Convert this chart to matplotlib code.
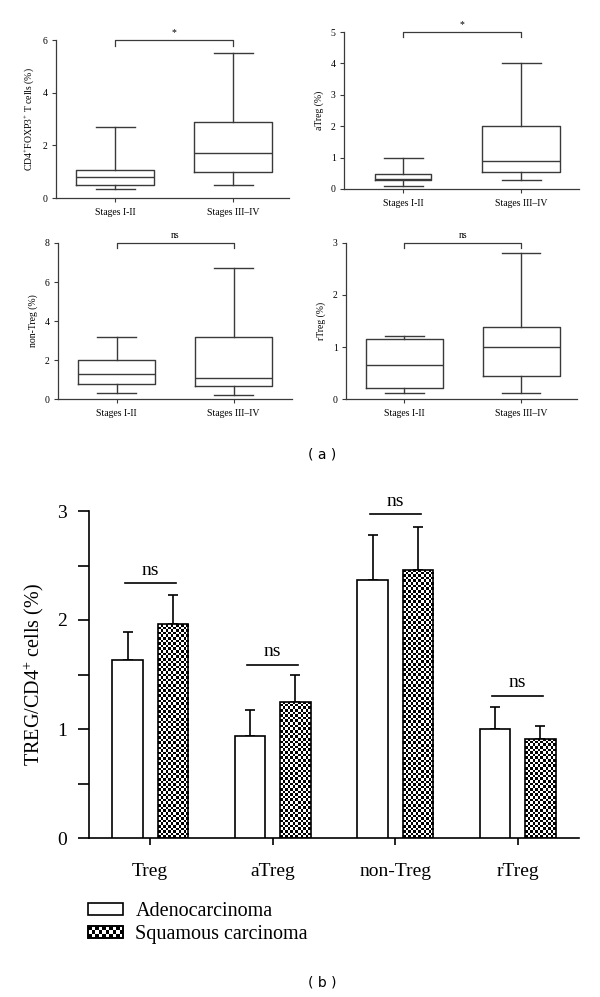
import numpy as np
import matplotlib
matplotlib.use("Agg")
import matplotlib.pyplot as plt
from matplotlib.patches import Rectangle
from matplotlib.legend_handler import HandlerBase

plt.rcParams['font.family'] = ['Liberation Serif', 'DejaVu Serif']
plt.rcParams['mathtext.fontset'] = 'custom'
plt.rcParams['mathtext.rm'] = 'Liberation Serif'
plt.rcParams['mathtext.it'] = 'Liberation Serif:italic'

# ---------------- data: panel (a) box plots ----------------
stages = ["Stages I-II", "Stages III\u2013IV"]

treg_whislo = [0.35, 0.5]
treg_q1 = [0.5, 1.0]
treg_med = [0.8, 1.72]
treg_q3 = [1.05, 2.9]
treg_whishi = [2.7, 5.5]

atreg_whislo = [0.1, 0.28]
atreg_q1 = [0.3, 0.53]
atreg_med = [0.33, 0.88]
atreg_q3 = [0.47, 2.0]
atreg_whishi = [1.0, 4.0]

ntreg_whislo = [0.3, 0.22]
ntreg_q1 = [0.75, 0.67]
ntreg_med = [1.3, 1.1]
ntreg_q3 = [2.02, 3.18]
ntreg_whishi = [3.18, 6.7]

rtreg_whislo = [0.12, 0.11]
rtreg_q1 = [0.22, 0.44]
rtreg_med = [0.65, 1.0]
rtreg_q3 = [1.15, 1.38]
rtreg_whishi = [1.22, 2.8]

sig_labels = ["*", "*", "ns", "ns"]
ylabels_a = ["CD4$^{+}$FOXP3$^{+}$ T cells (%)", "aTreg (%)", "non-Treg (%)", "rTreg (%)"]
yticks_a = [[0, 2, 4, 6], [0, 1, 2, 3, 4, 5], [0, 2, 4, 6, 8], [0, 1, 2, 3]]

# ---------------- data: panel (b) bar chart ----------------
groups = ["Treg", "aTreg", "non-Treg", "rTreg"]
adeno_mean = [1.63, 0.94, 2.37, 1.00]
adeno_err = [0.26, 0.23, 0.41, 0.20]
squam_mean = [1.96, 1.25, 2.46, 0.91]
squam_err = [0.27, 0.245, 0.39, 0.12]
ns_line_y = [2.34, 1.59, 2.97, 1.305]
series_names = ["Adenocarcinoma", "Squamous carcinoma"]

W, H = 600, 997
fig = plt.figure(figsize=(W / 100, H / 100), dpi=100)
LC = '#3a3a3a'


def px_axes(x0, y_top, x1, y_bot):
    return fig.add_axes([x0 / W, 1 - y_bot / H, (x1 - x0) / W, (y_bot - y_top) / H])


panel_boxes = [
    (treg_whislo, treg_q1, treg_med, treg_q3, treg_whishi),
    (atreg_whislo, atreg_q1, atreg_med, atreg_q3, atreg_whishi),
    (ntreg_whislo, ntreg_q1, ntreg_med, ntreg_q3, ntreg_whishi),
    (rtreg_whislo, rtreg_q1, rtreg_med, rtreg_q3, rtreg_whishi),
]
axes_px = [(56, 40, 289, 198), (344, 32, 579, 189), (58, 243, 292, 399), (346, 243, 577, 399)]
box_widths = [[0.66, 0.66], [0.48, 0.66], [0.66, 0.66], [0.66, 0.66]]
xlims = [(0.5, 2.47), (0.5, 2.49), (0.5, 2.5), (0.5, 2.48)]

FS_A = 7.0
for i in range(4):
    ax = px_axes(*axes_px[i])
    lo, q1, med, q3, hi = panel_boxes[i]
    stats = []
    for k in range(2):
        stats.append(dict(whislo=lo[k], q1=q1[k], med=med[k], q3=q3[k], whishi=hi[k], fliers=[], label=stages[k]))
    lp = dict(color=LC, linewidth=1.0)
    ax.bxp(stats, positions=[1, 2], widths=box_widths[i], capwidths=[0.33, 0.33],
           showfliers=False, boxprops=lp, whiskerprops=lp, capprops=lp,
           medianprops=dict(color=LC, linewidth=1.0))
    top = yticks_a[i][-1]
    ax.set_ylim(0, top)
    ax.set_xlim(*xlims[i])
    ax.set_yticks(yticks_a[i])
    ax.set_xticks([1, 2])
    ax.set_xticklabels(stages)
    ax.spines['top'].set_visible(False)
    ax.spines['right'].set_visible(False)
    for s in ['left', 'bottom']:
        ax.spines[s].set_color(LC)
        ax.spines[s].set_linewidth(0.9)
    ax.tick_params(axis='both', length=3, width=0.8, color=LC, labelsize=FS_A, pad=3)
    ax.tick_params(axis='x', pad=4)
    ax.set_ylabel(ylabels_a[i], fontsize=FS_A, labelpad=5)
    # significance bracket
    tip = top * 0.035
    ax.plot([1, 1, 2, 2], [top - tip, top, top, top - tip], color=LC, lw=0.9, clip_on=False)
    ax.text(1.5, top + top * 0.02, sig_labels[i], ha='center', va='bottom', fontsize=FS_A)

fig.text(322 / W, 1 - 455 / H, "( a )", ha='center', va='center', fontsize=10, family='DejaVu Sans')

# ---------------- panel (b) ----------------
FS_B = 14.0
axb = px_axes(89, 511, 579, 838)
x = np.arange(len(groups))
bw = 0.25
off = 0.185
b1 = axb.bar(x - off, adeno_mean, bw, color='white', edgecolor='black', linewidth=1.2, zorder=3)
b2 = axb.bar(x + off, squam_mean, bw, color='none', edgecolor='black', linewidth=1.2, zorder=3)
axb.errorbar(x - off, adeno_mean, yerr=[np.zeros(4), adeno_err], fmt='none', ecolor='black',
             elinewidth=1.2, capsize=3.3, capthick=1.2, zorder=2)
axb.errorbar(x + off, squam_mean, yerr=[np.zeros(4), squam_err], fmt='none', ecolor='black',
             elinewidth=1.2, capsize=3.3, capthick=1.2, zorder=2)

# checkerboard fill clipped to squamous bars
px_per_unit = 327 / 3.0
for rect, h in zip(b2.patches, squam_mean):
    cols = 12
    rows = max(1, int(round(h * px_per_unit / 2.6)))
    yy, xx = np.mgrid[0:rows, 0:cols]
    img = ((xx + yy) % 2).astype(float)
    x0 = rect.get_x()
    im = axb.imshow(img, extent=(x0, x0 + rect.get_width(), 0, h), cmap='gray', vmin=0, vmax=1,
                    interpolation='nearest', aspect='auto', zorder=2.5, origin='lower')
    im.set_clip_path(rect)

for k in range(4):
    axb.plot([x[k] - 0.21, x[k] + 0.21], [ns_line_y[k]] * 2, color='black', lw=1.2, zorder=3)
    axb.text(x[k], ns_line_y[k] + 0.04, "ns", ha='center', va='bottom', fontsize=FS_B)

axb.set_xlim(-0.5, 3.5)
axb.set_ylim(0, 3)
axb.set_yticks([0, 1, 2, 3])
axb.set_yticks([0.5, 1.5, 2.5], minor=True)
axb.set_xticks(x)
axb.set_xticklabels(groups)
axb.spines['top'].set_visible(False)
axb.spines['right'].set_visible(False)
for s in ['left', 'bottom']:
    axb.spines[s].set_linewidth(1.2)
axb.tick_params(axis='y', which='both', length=8, width=1.2, labelsize=FS_B, pad=8)
axb.tick_params(axis='x', length=5, width=1.2, labelsize=FS_B, pad=13)
axb.set_ylabel("TREG/CD4$^{+}$ cells (%)", fontsize=FS_B + 0.5)
axb.yaxis.set_label_coords(-0.088, 0.5)


class HandlerChecker(HandlerBase):
    def create_artists(self, legend, orig_handle, xdescent, ydescent, width, height, fontsize, trans):
        arts = [Rectangle((-xdescent, -ydescent), width, height, facecolor='white',
                          edgecolor='black', linewidth=1.2, transform=trans)]
        cols, rows = 10, 3
        cw, ch = width / cols, height / rows
        for r in range(rows):
            for c in range(cols):
                if (r + c) % 2 == 0:
                    arts.append(Rectangle((-xdescent + c * cw, -ydescent + r * ch), cw, ch,
                                          facecolor='black', edgecolor='none', transform=trans))
        arts.append(Rectangle((-xdescent, -ydescent), width, height, facecolor='none',
                              edgecolor='black', linewidth=1.2, transform=trans))
        return arts


leg = fig.legend([b1.patches[0], b2.patches[0]], series_names, loc='upper left',
                 bbox_to_anchor=(88 / W, 1 - 902 / H), frameon=False, fontsize=FS_B + 0.5,
                 borderpad=0, borderaxespad=0,
                 handlelength=1.75, handleheight=0.55, handletextpad=0.6, labelspacing=0.2,
                 handler_map={b2.patches[0]: HandlerChecker()})

fig.text(322 / W, 1 - 982 / H, "( b )", ha='center', va='center', fontsize=10, family='DejaVu Sans')

fig.savefig("out.png", dpi=100)
